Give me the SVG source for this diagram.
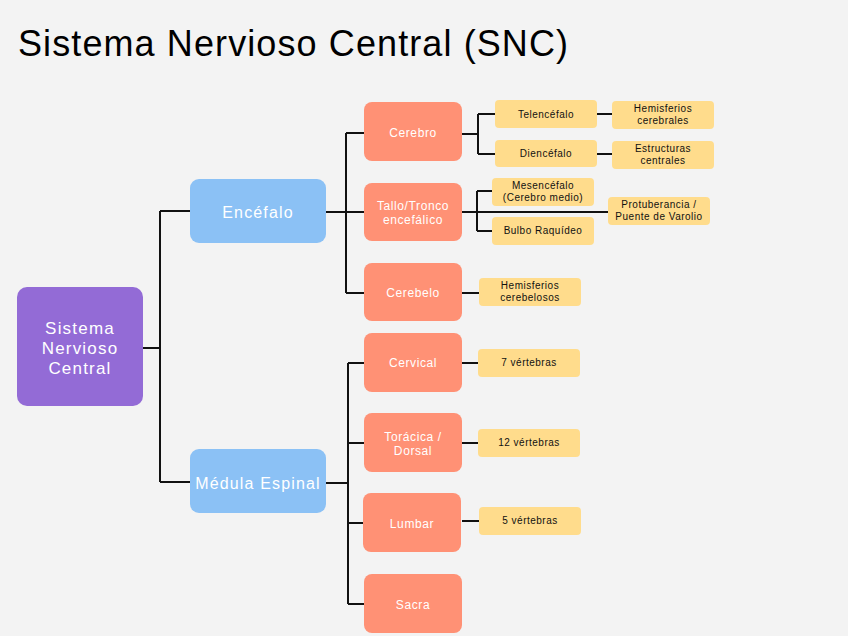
<svg xmlns="http://www.w3.org/2000/svg" width="848" height="636" viewBox="0 0 848 636">
<style>
text{font-family:"Liberation Sans",Arial,sans-serif;text-anchor:middle;dominant-baseline:central}
.title{text-anchor:start;dominant-baseline:auto;font-size:36px;letter-spacing:1.1px;fill:#000}
.root{fill:#936BD6}
.l1{fill:#8BC1F5}
.l2{fill:#FF9175}
.l3{fill:#FFDC8C}
.wt{fill:#fff}
.t0{font-size:17px;letter-spacing:1.2px}
.t1{font-size:16px;letter-spacing:1.15px}
.t2{font-size:12px;letter-spacing:0.6px}
.t3{font-size:10px;letter-spacing:0.5px;fill:#111}
.c{fill:none;stroke:#111;stroke-width:2}
</style>
<rect width="848" height="636" fill="#F3F3F3"/>
<text class="title" x="18" y="56">Sistema Nervioso Central (SNC)</text>
<g id="connectors">
<path class="c" d="M143 348H160M160 211V482M160 211H190M160 482H190"/>
<path class="c" d="M326 212H346M346 133V293M346 133H364M346 293H364M346 212H364"/>
<path class="c" d="M326 483H348M348 363V604M348 363H364M348 443H364M348 523H364M348 604H364"/>
<path class="c" d="M462 134H478M478 114V154M478 114H495M478 154H495"/>
<path class="c" d="M597 114H612M597 154H612"/>
<path class="c" d="M462 212H608M477 191V231M477 191H492M477 231H492"/>
<path class="c" d="M462 293H479"/>
<path class="c" d="M462 363H478M462 443H478M462 521H479"/>
</g>
<g id="root"><rect class="root" x="17" y="287" width="126" height="119" rx="10"/>
<text class="wt t0" x="80" y="328">Sistema</text>
<text class="wt t0" x="80" y="348">Nervioso</text>
<text class="wt t0" x="80" y="368">Central</text></g>
<g id="encefalo"><rect class="l1" x="190" y="179" width="136" height="64" rx="9"/><text class="wt t1" x="258" y="212">Encéfalo</text></g>
<g id="medula"><rect class="l1" x="190" y="449" width="136" height="64" rx="9"/><text class="wt t1" x="258" y="483">Médula Espinal</text></g>
<g id="cerebro"><rect class="l2" x="364" y="102" width="98" height="59" rx="8"/><text class="wt t2" x="413" y="133">Cerebro</text></g>
<g id="tallo"><rect class="l2" x="364" y="183" width="98" height="58" rx="8"/><text class="wt t2" x="413" y="206">Tallo/Tronco</text><text class="wt t2" x="413" y="220">encefálico</text></g>
<g id="cerebelo"><rect class="l2" x="364" y="263" width="98" height="58" rx="8"/><text class="wt t2" x="413" y="293">Cerebelo</text></g>
<g id="cervical"><rect class="l2" x="364" y="333" width="98" height="59" rx="8"/><text class="wt t2" x="413" y="363">Cervical</text></g>
<g id="toracica"><rect class="l2" x="364" y="413" width="98" height="59" rx="8"/><text class="wt t2" x="413" y="437">Torácica /</text><text class="wt t2" x="413" y="451">Dorsal</text></g>
<g id="lumbar"><rect class="l2" x="363" y="493" width="98" height="59" rx="8"/><text class="wt t2" x="412" y="524">Lumbar</text></g>
<g id="sacra"><rect class="l2" x="364" y="574" width="98" height="59" rx="8"/><text class="wt t2" x="413" y="605">Sacra</text></g>
<g id="telencefalo"><rect class="l3" x="495" y="100" width="102" height="28" rx="4"/><text class="t3" x="546" y="114">Telencéfalo</text></g>
<g id="diencefalo"><rect class="l3" x="495" y="140" width="102" height="27" rx="4"/><text class="t3" x="546" y="153">Diencéfalo</text></g>
<g id="hemcerebrales"><rect class="l3" x="612" y="101" width="102" height="28" rx="4"/><text class="t3" x="663" y="108.5">Hemisferios</text><text class="t3" x="663" y="120.5">cerebrales</text></g>
<g id="estructuras"><rect class="l3" x="612" y="141" width="102" height="28" rx="4"/><text class="t3" x="663" y="148.5">Estructuras</text><text class="t3" x="663" y="160.5">centrales</text></g>
<g id="mesencefalo"><rect class="l3" x="492" y="178" width="102" height="28" rx="4"/><text class="t3" x="543" y="185.5">Mesencéfalo</text><text class="t3" x="543" y="197.5">(Cerebro medio)</text></g>
<g id="bulbo"><rect class="l3" x="492" y="217" width="102" height="28" rx="4"/><text class="t3" x="543" y="230">Bulbo Raquídeo</text></g>
<g id="protuberancia"><rect class="l3" x="608" y="197" width="102" height="28" rx="4"/><text class="t3" x="659" y="204.5">Protuberancia /</text><text class="t3" x="659" y="216.5">Puente de Varolio</text></g>
<g id="hemcerebelosos"><rect class="l3" x="479" y="278" width="102" height="28" rx="4"/><text class="t3" x="530" y="285.5">Hemisferios</text><text class="t3" x="530" y="297.5">cerebelosos</text></g>
<g id="v7"><rect class="l3" x="478" y="349" width="102" height="28" rx="4"/><text class="t3" x="529" y="362">7 vértebras</text></g>
<g id="v12"><rect class="l3" x="478" y="429" width="102" height="28" rx="4"/><text class="t3" x="529" y="442">12 vértebras</text></g>
<g id="v5"><rect class="l3" x="479" y="507" width="102" height="28" rx="4"/><text class="t3" x="530" y="520">5 vértebras</text></g>
</svg>
